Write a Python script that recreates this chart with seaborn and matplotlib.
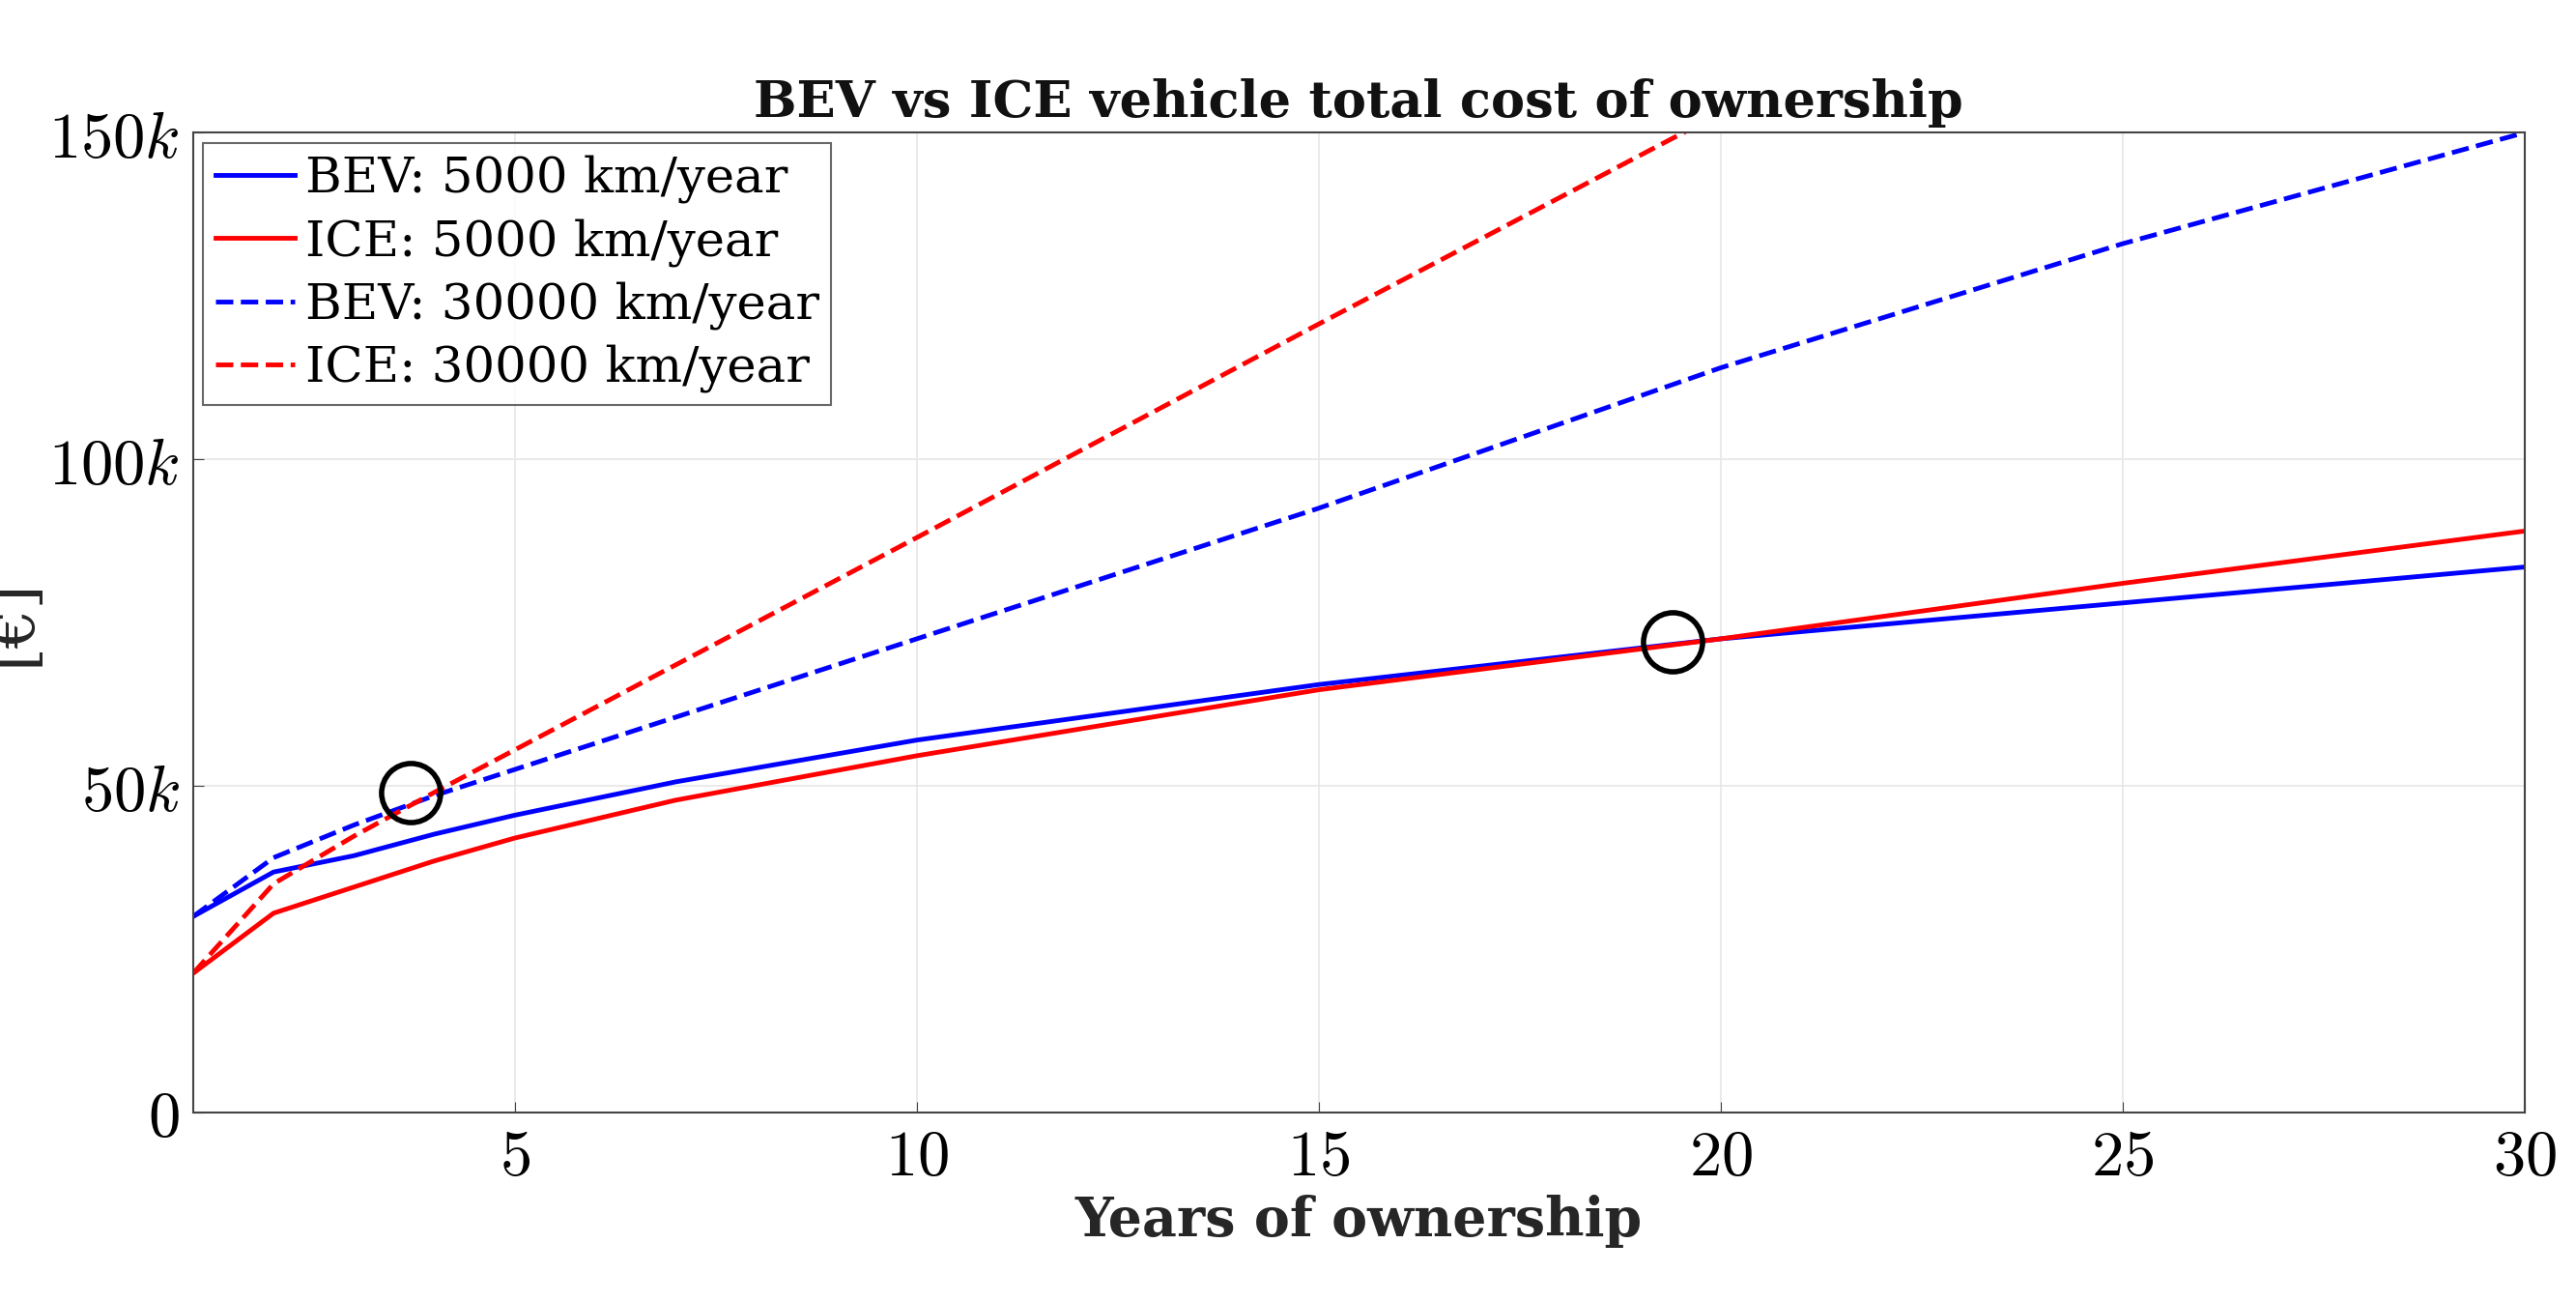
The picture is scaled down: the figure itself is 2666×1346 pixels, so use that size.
import matplotlib
matplotlib.use("Agg")
import matplotlib.pyplot as plt
import seaborn as sns
import pandas as pd

years = [1, 2, 3, 4, 5, 7, 10, 15, 20, 25, 30]
bev_5000 = [30000, 36800, 39300, 42600, 45500, 50600, 57000, 65500, 72500, 78000, 83500]
ice_5000 = [21300, 30500, 34500, 38500, 42000, 47800, 54600, 64700, 72500, 81000, 89000]
bev_30000 = [30000, 39000, 44000, 48500, 52500, 60500, 72500, 92500, 114000, 133000, 150000]
ice_30000 = [21300, 35000, 42300, 49000, 55500, 68500, 88000, 120700, 153000, 185000, 218000]
circles_x = [3.7, 19.4]
circles_y = [49000, 72000]

plt.rcParams["mathtext.fontset"] = "cm"
plt.rcParams["font.family"] = "DejaVu Serif"

fig = plt.figure(figsize=(26.66, 13.46), dpi=100)
ax = fig.add_axes([0.075, 0.145, 0.905, 0.753])

rows = []
for name, vals in [("BEV: 5000 km/year", bev_5000), ("ICE: 5000 km/year", ice_5000),
                   ("BEV: 30000 km/year", bev_30000), ("ICE: 30000 km/year", ice_30000)]:
    for y, v in zip(years, vals):
        rows.append({"year": y, "cost": v, "series": name})
df = pd.DataFrame(rows)
styles = {"BEV: 5000 km/year": ("#0000ff", "-"), "ICE: 5000 km/year": ("#ff0000", "-"),
          "BEV: 30000 km/year": ("#0000ff", "--"), "ICE: 30000 km/year": ("#ff0000", "--")}
for name, (c, ls) in styles.items():
    d = df[df.series == name]
    sns.lineplot(data=d, x="year", y="cost", ax=ax, color=c, linestyle=ls, linewidth=3.5, label=name)

ax.plot(circles_x, circles_y, 'o', markersize=44, markerfacecolor='none',
        markeredgecolor='black', markeredgewidth=4)

ax.set_xlim(1, 30)
ax.set_ylim(0, 150000)
ax.set_xticks([5, 10, 15, 20, 25, 30])
ax.set_xticklabels([r"$5$", r"$10$", r"$15$", r"$20$", r"$25$", r"$30$"], fontsize=48)
ax.set_yticks([0, 50000, 100000, 150000])
ax.set_yticklabels([r"$0$", r"$50k$", r"$100k$", r"$150k$"], fontsize=48)
ax.grid(True, color="#e6e6e6", linewidth=1.2)
for s in ax.spines.values():
    s.set_color("#444444")
    s.set_linewidth(1.5)
ax.tick_params(direction="in", length=8, color="#444444", pad=10)
ax.set_xlabel("Years of ownership", fontsize=40, fontweight="bold", color="#262626")
ax.set_ylabel("[€]", fontsize=46, color="#262626")
ax.set_title("BEV vs ICE vehicle total cost of ownership", fontsize=38, fontweight="bold", color="#111111", pad=12)
leg = ax.legend(loc="upper left", frameon=True, fancybox=False,
                edgecolor="#444444", handlelength=1.6, handletextpad=0.2, borderaxespad=0.2,
                labelspacing=0.3, borderpad=0.25,
                prop={"family": "DejaVu Serif", "size": 37})
leg.get_frame().set_linewidth(1.5)
fig.savefig("out.png", dpi=100)
